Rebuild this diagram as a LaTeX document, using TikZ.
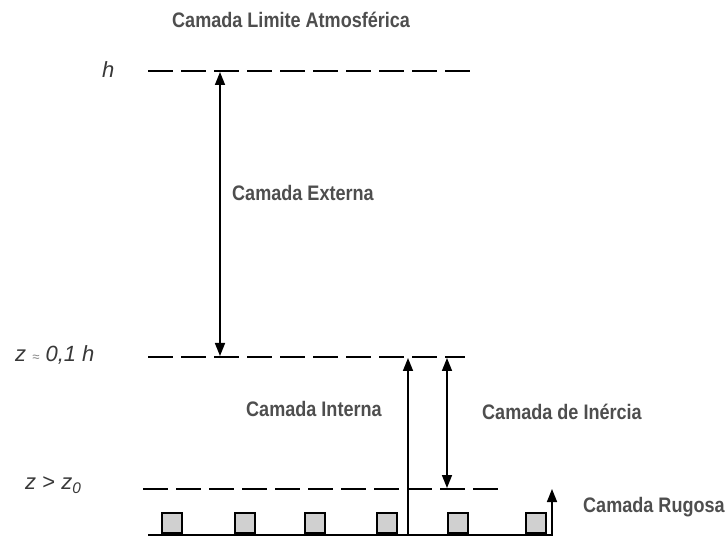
\documentclass[tikz,border=0pt]{standalone}
\usepackage{fontspec}
\setmainfont{Liberation Sans}
\newfontfamily\layerfont[FakeStretch=0.86]{Liberation Sans}
\usetikzlibrary{arrows.meta}
\definecolor{labelgray}{RGB}{78,78,78}
\definecolor{roughgray}{RGB}{208,208,208}
\tikzset{
  layer/.style={font=\layerfont\bfseries\fontsize{21}{24}\selectfont, text=labelgray, inner sep=0pt},
  level/.style={font=\itshape\fontsize{22}{25}\selectfont, text=black!78, inner sep=0pt},
  dashline/.style={line width=2.6pt, dash pattern=on 25pt off 8pt},
  uparrow/.style={line width=1.6pt, -{Triangle[length=13pt,width=10pt]}},
  twoarrow/.style={line width=1.6pt, {Triangle[length=13pt,width=10pt]}-{Triangle[length=13pt,width=10pt]}},
  rough/.style={draw, line width=2pt, fill=roughgray, minimum size=20pt, inner sep=0pt, anchor=south west}
}
\begin{document}
\begin{tikzpicture}[x=1pt,y=-1pt]
        \useasboundingbox (0,0) rectangle (726,537);

        % level lines
        \coordinate (hL)  at (148,71);
        \coordinate (hR)  at (477,71);
        \coordinate (iL)  at (148,357);
        \coordinate (iR)  at (465,357);
        \coordinate (rL)  at (143,489);
        \coordinate (rR)  at (499,489);
        \coordinate (gL)  at (148,535);
        \coordinate (gR)  at (553,535);

        \draw[dashline] (hL) -- (hR);
        \draw[dashline] (iL) -- (iR);
        \draw[dashline] (rL) -- (rR);
        \draw[line width=2pt] (gL) -- (gR);

        % roughness elements
        \foreach \x [count=\i] in {161,234,304,376,447,525}
          \node[rough] (r\i) at (\x,534) {};

        % arrows
        \coordinate (extTop) at (220,72);
        \coordinate (extBot) at (220,356);
        \coordinate (intBot) at (408,535);
        \coordinate (intTop) at (408,358);
        \coordinate (inTop)  at (447,358);
        \coordinate (inBot)  at (447,488);
        \coordinate (rugBot) at (552,535);
        \coordinate (rugTop) at (552,489);

        \draw[twoarrow] (extTop) -- (extBot);
        \draw[uparrow]  (intBot) -- (intTop);
        \draw[twoarrow] (inTop)  -- (inBot);
        \draw[uparrow]  (rugBot) -- (rugTop);

        % labels
        \begin{scope}[every node/.style={layer, anchor=west}]
          \node (title) at (172,20)  {Camada Limite Atmosférica};
          \node (ext)   at (232,193) {Camada Externa};
          \node (int)   at (246,409) {Camada Interna};
          \node (ine)   at (482,412) {Camada de Inércia};
          \node (rug)   at (583,507) {Camada Rugosa};
        \end{scope}

        \begin{scope}[every node/.style={level, anchor=west}]
          \node (h)  at (102,70)  {h};
          \node (z1) at (15,355)  {z {\color{gray}\fontsize{13}{14}\selectfont ≈} 0,1 h};
          \node (z0) at (25,485)  {z {\upshape >} z\textsubscript{0}};
        \end{scope}

      \end{tikzpicture}
\end{document}
